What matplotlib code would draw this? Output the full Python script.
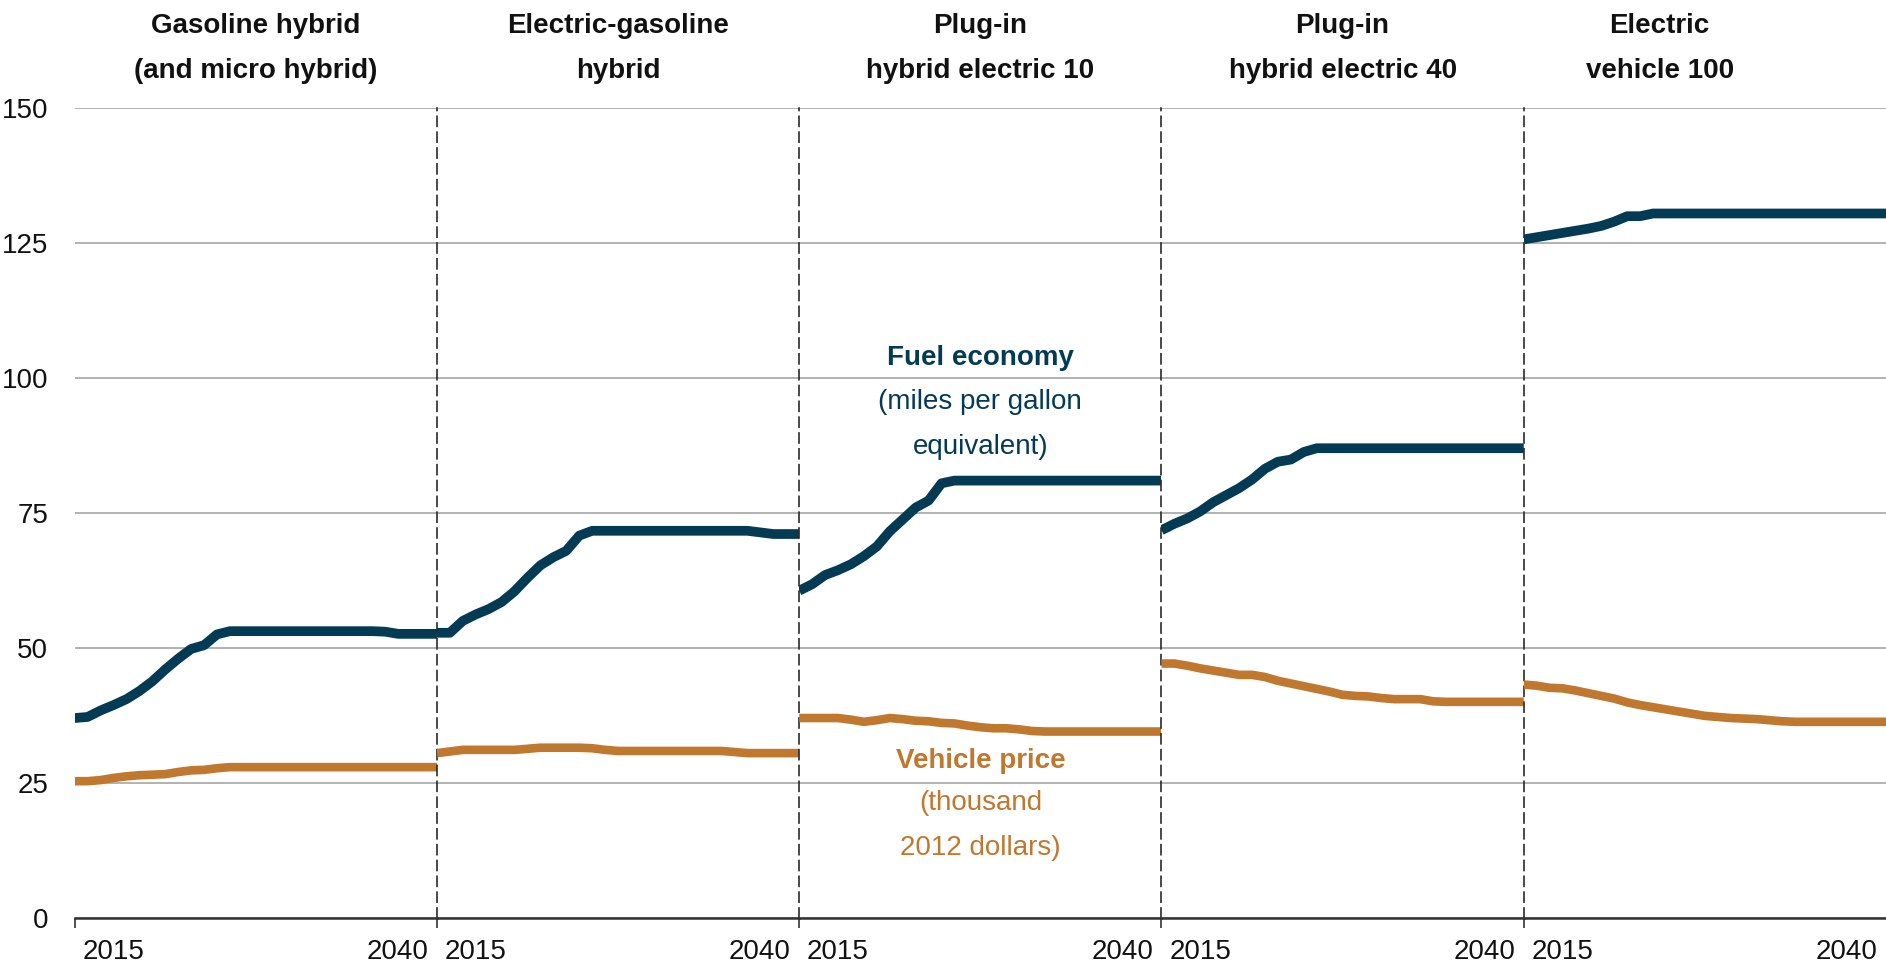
import matplotlib
matplotlib.use("Agg")
import matplotlib.pyplot as plt
import matplotlib.transforms as mtransforms

plt.rcParams['font.family'] = ['Liberation Sans', 'DejaVu Sans']

years = list(range(2012, 2041))

titles = [["Gasoline hybrid", "(and micro hybrid)"],
          ["Electric-gasoline", "hybrid"],
          ["Plug-in", "hybrid electric 10"],
          ["Plug-in", "hybrid electric 40"],
          ["Electric", "vehicle 100"]]

# fuel economy (miles per gallon equivalent)
fuel_gas_hybrid = [37.0, 37.2, 38.4, 39.4, 40.5, 42.0, 43.8, 46.0, 48.0, 49.8, 50.5, 52.5, 53.1,
                   53.1, 53.1, 53.1, 53.1, 53.1, 53.1, 53.1, 53.1, 53.1, 53.1, 53.1, 53.0,
                   52.6, 52.6, 52.6, 52.6]
fuel_elec_gas = [52.8, 52.8, 55.0, 56.2, 57.2, 58.5, 60.5, 63.0, 65.3, 66.8, 68.0, 70.8, 71.7,
                 71.7, 71.7, 71.7, 71.7, 71.7, 71.7, 71.7, 71.7, 71.7, 71.7, 71.7, 71.7,
                 71.4, 71.1, 71.1, 71.1]
fuel_phev10 = [60.6, 61.8, 63.5, 64.4, 65.5, 67.0, 68.8, 71.6, 73.8, 76.0, 77.3, 80.5, 81.0,
               81.0, 81.0, 81.0, 81.0, 81.0, 81.0, 81.0, 81.0, 81.0, 81.0, 81.0, 81.0,
               81.0, 81.0, 81.0, 81.0]
fuel_phev40 = [71.8, 73.0, 74.0, 75.3, 77.0, 78.3, 79.6, 81.2, 83.2, 84.5, 84.9, 86.3, 87.0,
               87.0, 87.0, 87.0, 87.0, 87.0, 87.0, 87.0, 87.0, 87.0, 87.0, 87.0, 87.0,
               87.0, 87.0, 87.0, 87.0]
fuel_ev100 = [125.7, 126.1, 126.5, 126.9, 127.3, 127.7, 128.2, 129.0, 130.0, 130.0, 130.5,
              130.5, 130.5, 130.5, 130.5, 130.5, 130.5, 130.5, 130.5, 130.5, 130.5, 130.5,
              130.5, 130.5, 130.5, 130.5, 130.5, 130.5, 130.5]

# vehicle price (thousand 2012 dollars)
price_gas_hybrid = [25.3, 25.3, 25.5, 25.9, 26.2, 26.4, 26.5, 26.6, 27.0, 27.3, 27.4, 27.7, 27.9,
                    27.9, 27.9, 27.9, 27.9, 27.9, 27.9, 27.9, 27.9, 27.9, 27.9, 27.9, 27.9,
                    27.9, 27.9, 27.9, 27.9]
price_elec_gas = [30.5, 30.8, 31.1, 31.1, 31.1, 31.1, 31.1, 31.3, 31.5, 31.5, 31.5, 31.5, 31.4,
                  31.1, 30.9, 30.9, 30.9, 30.9, 30.9, 30.9, 30.9, 30.9, 30.9, 30.7, 30.5,
                  30.5, 30.5, 30.5, 30.5]
price_phev10 = [37.0, 37.0, 37.0, 37.0, 36.7, 36.3, 36.6, 37.0, 36.8, 36.5, 36.4, 36.1, 36.0,
                35.6, 35.3, 35.1, 35.1, 34.9, 34.6, 34.5, 34.5, 34.5, 34.5, 34.5, 34.5,
                34.5, 34.5, 34.5, 34.5]
price_phev40 = [47.1, 47.1, 46.7, 46.2, 45.8, 45.4, 45.0, 45.0, 44.6, 43.9, 43.4, 42.9, 42.4,
                41.9, 41.3, 41.1, 41.0, 40.7, 40.5, 40.5, 40.5, 40.1, 40.0, 40.0, 40.0,
                40.0, 40.0, 40.0, 40.0]
price_ev100 = [43.2, 43.0, 42.6, 42.5, 42.1, 41.6, 41.1, 40.6, 39.9, 39.4, 39.0, 38.6, 38.2,
               37.8, 37.4, 37.2, 37.0, 36.9, 36.8, 36.6, 36.4, 36.3, 36.3, 36.3, 36.3,
               36.3, 36.3, 36.3, 36.3]

fuel = [fuel_gas_hybrid, fuel_elec_gas, fuel_phev10, fuel_phev40, fuel_ev100]
price = [price_gas_hybrid, price_elec_gas, price_phev10, price_phev40, price_ev100]

yticks = [0, 25, 50, 75, 100, 125, 150]
xticks = [2015, 2040]

navy = '#033b55'
orange = '#c0772e'
fs = 20

fig, axes = plt.subplots(1, 5, figsize=(18.86, 9.71), dpi=100, sharey=True)
plt.subplots_adjust(left=0.0396, right=1.0, bottom=0.0549, top=0.8885, wspace=0)

title_x = [0.5, 0.5, 0.5, 0.5, 0.375]

for i, ax in enumerate(axes):
    ax.plot(years, fuel[i], color=navy, lw=7.0, solid_capstyle='butt',
            solid_joinstyle='round', zorder=3)
    ax.plot(years, price[i], color=orange, lw=6.2, solid_capstyle='butt',
            solid_joinstyle='round', zorder=3)
    ax.set_xlim(2012, 2040)
    ax.set_ylim(0, 150)
    ax.set_yticks(yticks)
    ax.grid(axis='y', color='#ababab', lw=1.3)
    ax.set_axisbelow(True)
    ax.set_xticks(xticks)
    ax.set_xticks([2012], minor=True)
    ax.tick_params(axis='x', which='major', length=0, pad=15, labelsize=fs, labelcolor='#111111')
    ax.tick_params(axis='x', which='minor', length=7, width=1.2, color='#333333', direction='out')
    ax.tick_params(axis='y', length=0, pad=19, labelsize=fs, labelcolor='#111111')
    labs = ax.get_xticklabels()
    labs[1].set_ha('right')
    labs[1].set_transform(labs[1].get_transform() +
                          mtransforms.ScaledTranslation(-6 / 72, 0, fig.dpi_scale_trans))
    ax.spines['top'].set_visible(False)
    ax.spines['right'].set_visible(False)
    ax.spines['bottom'].set_color('#333333')
    ax.spines['bottom'].set_linewidth(1.8)
    if i == 0:
        ax.spines['left'].set_visible(False)
    else:
        ax.spines['left'].set_color('#2a2a2a')
        ax.spines['left'].set_linewidth(1.2)
        ax.spines['left'].set_linestyle((0, (6, 3.5)))
        ax.tick_params(axis='y', labelleft=False)
    trans = mtransforms.blended_transform_factory(ax.transAxes, fig.transFigure)
    ax.text(title_x[i], 0.9728, titles[i][0], transform=trans, ha='center', va='center',
            fontsize=fs, fontweight='bold', color='#111111')
    ax.text(title_x[i], 0.9264, titles[i][1], transform=trans, ha='center', va='center',
            fontsize=fs, fontweight='bold', color='#111111')

ax3 = axes[2]
ax3.text(2026, 103.7, "Fuel economy", ha='center', va='center', fontsize=fs,
         fontweight='bold', color=navy)
ax3.text(2026, 95.5, "(miles per gallon", ha='center', va='center', fontsize=fs, color=navy)
ax3.text(2026, 87.2, "equivalent)", ha='center', va='center', fontsize=fs, color=navy)
ax3.text(2026, 29.0, "Vehicle price", ha='center', va='center', fontsize=fs,
         fontweight='bold', color=orange)
ax3.text(2026, 21.2, "(thousand", ha='center', va='center', fontsize=fs, color=orange)
ax3.text(2026, 12.9, "2012 dollars)", ha='center', va='center', fontsize=fs, color=orange)

plt.savefig('out.png', dpi=100)
